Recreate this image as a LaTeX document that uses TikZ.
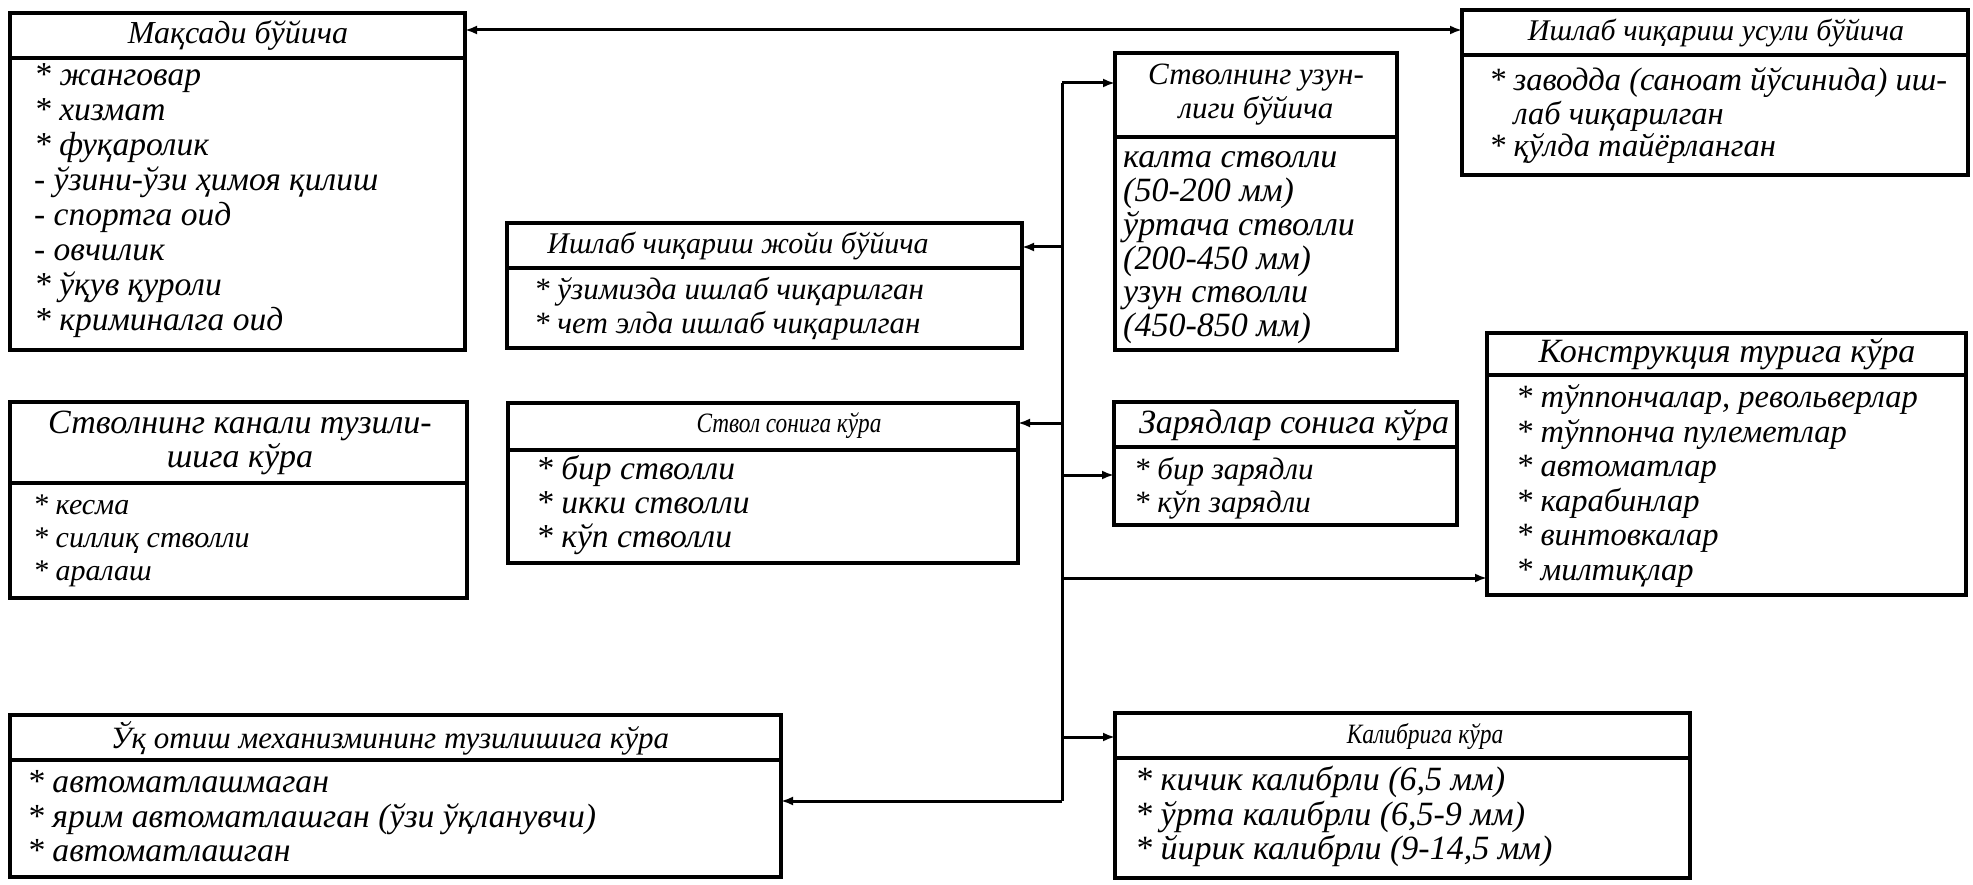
\documentclass[tikz,border=0pt]{standalone}
\usepackage{fontspec}
\setmainfont{Liberation Serif}
\usetikzlibrary{arrows.meta}
\tikzset{
 box/.style={draw, line width=4pt, inner sep=0pt, outer sep=0pt, anchor=north west},
 htxt/.style={inner sep=0pt, align=center, font=\fontsize{#1}{34}\selectfont\itshape},
 btxt/.style 2 args={inner sep=0pt, anchor=north west, align=left, font=\fontsize{#1}{#2}\selectfont\itshape},
 conn/.style={line width=3pt},
 arr/.style={conn, -{Latex[length=12pt,width=9pt]}},
 darr/.style={conn, {Latex[length=12pt,width=9pt]}-{Latex[length=12pt,width=9pt]}},
}
\begin{document}
\begin{tikzpicture}[x=1pt,y=-1pt]
\useasboundingbox (0,0) rectangle (1973,885);
% A
\node[box, minimum width=455pt, minimum height=45pt] (hA) at (10,13) {};
\node[htxt=32] (lA) at (238,36) {Мақсади бўйича};
\node[box, minimum width=455pt, minimum height=292pt] (bA) at (10,58) {};
\node[btxt={33.5}{35}] (tA) at (34,60.5) {\strut* жанговар\\* хизмат\\* фуқаролик\\- ўзини-ўзи ҳимоя қилиш\\- спортга оид\\- овчилик\\* ўқув қуроли\\* криминалга оид};
% B
\node[box, minimum width=506pt, minimum height=45pt] (hB) at (1462,10) {};
\node[htxt=30] (lB) at (1716,33) {Ишлаб чиқариш усули бўйича};
\node[box, minimum width=506pt, minimum height=120pt] (bB) at (1462,55) {};
\node[btxt={32.5}{32}] (tB) at (1489,67.6) {\strut* заводда (саноат йўсинида) иш-\\\phantom{* }лаб чиқарилган\\* қўлда тайёрланган};
% C
\node[box, minimum width=282pt, minimum height=84pt] (hC) at (1115,53) {};
\node[htxt=31] (lC) at (1256,95) {Стволнинг узун-\\лиги бўйича};
\node[box, minimum width=282pt, minimum height=213pt] (bC) at (1115,137) {};
\node[btxt={34}{33.6}] (tC) at (1123,143.5) {\strut калта стволли\\(50-200 мм)\\ўртача стволли\\(200-450 мм)\\узун стволли\\(450-850 мм)};
% J
\node[box, minimum width=515pt, minimum height=45pt] (hJ) at (507,223) {};
\node[htxt=30] (lJ) at (738,246) {Ишлаб чиқариш жойи бўйича};
\node[box, minimum width=515pt, minimum height=80pt] (bJ) at (507,268) {};
\node[btxt={31}{34}] (tJ) at (534,276) {\strut* ўзимизда ишлаб чиқарилган\\* чет элда ишлаб чиқарилган};
% D
\node[box, minimum width=457pt, minimum height=81pt] (hD) at (10,402) {};
\node[htxt=34] (lD) at (240,443) {Стволнинг канали тузили-\\шига кўра};
\node[box, minimum width=457pt, minimum height=115pt] (bD) at (10,483) {};
\node[btxt={30}{33}] (tD) at (33,491) {\strut* кесма\\* силлиқ стволли\\* аралаш};
% E
\node[box, minimum width=510pt, minimum height=47pt] (hE) at (508,403) {};
\node[htxt=28, xscale=0.83] (lE) at (789,426) {Ствол сонига кўра};
\node[box, minimum width=510pt, minimum height=113pt] (bE) at (508,450) {};
\node[btxt={33.5}{34}] (tE) at (536,455) {\strut* бир стволли\\* икки стволли\\* кўп стволли};
% F
\node[box, minimum width=343pt, minimum height=45pt] (hF) at (1114,402) {};
\node[htxt=34] (lF) at (1294,425) {Зарядлар сонига кўра};
\node[box, minimum width=343pt, minimum height=78pt] (bF) at (1114,447) {};
\node[btxt={31}{33}] (tF) at (1134,456) {\strut* бир зарядли\\* кўп зарядли};
% G
\node[box, minimum width=479pt, minimum height=42pt] (hG) at (1487,333) {};
\node[htxt=34] (lG) at (1727,354) {Конструкция турига кўра};
\node[box, minimum width=479pt, minimum height=220pt] (bG) at (1487,375) {};
\node[btxt={32.5}{34.6}] (tG) at (1516,383) {\strut* тўппончалар, револьверлар\\* тўппонча пулеметлар\\* автоматлар\\* карабинлар\\* винтовкалар\\* милтиқлар};
% H
\node[box, minimum width=771pt, minimum height=45pt] (hH) at (10,715) {};
\node[htxt=31] (lH) at (390,738) {Ўқ отиш механизмининг тузилишига кўра};
\node[box, minimum width=771pt, minimum height=117pt] (bH) at (10,760) {};
\node[btxt={33.7}{34}] (tH) at (27,768) {\strut* автоматлашмаган\\* ярим автоматлашган (ўзи ўқланувчи)\\* автоматлашган};
% I
\node[box, minimum width=575pt, minimum height=45pt] (hI) at (1115,713) {};
\node[htxt=28, xscale=0.84] (lI) at (1425,736) {Калибрига кўра};
\node[box, minimum width=575pt, minimum height=120pt] (bI) at (1115,758) {};
\node[btxt={34}{33.5}] (tI) at (1135,766) {\strut* кичик калибрли (6,5 мм)\\* ўрта калибрли (6,5-9 мм)\\* йирик калибрли (9-14,5 мм)};
% connectors
\coordinate (tl) at (700,30);
\coordinate (spTop) at (1062,83);
\coordinate (spBot) at (1062,801);
\coordinate (sJ) at (1062,247);
\coordinate (sE) at (1062,423);
\coordinate (sF) at (1062,475);
\coordinate (sG) at (1062,578);
\coordinate (sI) at (1062,737);
\draw[darr] (tl -| hA.east) -- (tl -| hB.west);
\draw[conn] (spTop) -- (spBot);
\draw[arr] (spTop) -- (spTop -| hC.west);
\draw[arr] (sJ) -- (sJ -| hJ.east);
\draw[arr] (sE) -- (sE -| hE.east);
\draw[arr] (sF) -- (sF -| bF.west);
\draw[arr] (sG) -- (sG -| bG.west);
\draw[arr] (sI) -- (sI -| hI.west);
\draw[arr] (spBot) -- (spBot -| bH.east);
\end{tikzpicture}
\end{document}
